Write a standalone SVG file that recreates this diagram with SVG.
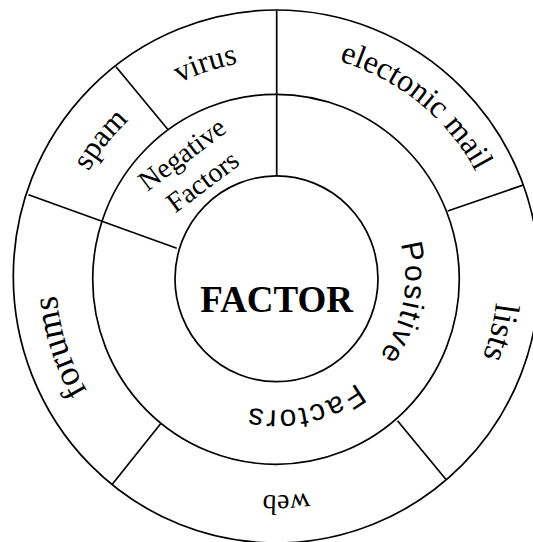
<svg xmlns="http://www.w3.org/2000/svg" xmlns:xlink="http://www.w3.org/1999/xlink" width="533" height="542" viewBox="0 0 533 542">
<style>
.ring{fill:none;stroke:#000;stroke-width:1.7}
.div{stroke:#000;stroke-width:1.7;fill:none}
.serif{font-family:"Liberation Serif","Times New Roman",serif;fill:#000}
.sans{font-family:"Liberation Sans",Arial,sans-serif;fill:#000}
</style>
<defs>
<path id="r216" d="M -216 0 A 216 216 0 1 1 216 0 A 216 216 0 1 1 -216 0"/>
<path id="r217" d="M -217 0 A 217 217 0 1 1 217 0 A 217 217 0 1 1 -217 0"/>
<path id="r218" d="M -218 0 A 218 218 0 1 1 218 0 A 218 218 0 1 1 -218 0"/>
<path id="r220" d="M -220 0 A 220 220 0 1 1 220 0 A 220 220 0 1 1 -220 0"/>
<path id="r221" d="M -221 0 A 221 221 0 1 1 221 0 A 221 221 0 1 1 -221 0"/>
<path id="r226" d="M -226 0 A 226 226 0 1 1 226 0 A 226 226 0 1 1 -226 0"/>
<path id="r129" d="M -129 0 A 129 129 0 1 1 129 0 A 129 129 0 1 1 -129 0"/>
<path id="r132" d="M -132 0 A 132 132 0 1 1 132 0 A 132 132 0 1 1 -132 0"/>
</defs>
<rect width="533" height="542" fill="#fff"/>

<g id="outer-ring">
<ellipse class="ring" cx="276.3" cy="276.5" rx="263" ry="266.5"/>
</g>
<g id="middle-ring">
<ellipse class="ring" cx="276" cy="279.3" rx="183.3" ry="185"/>
</g>

<g id="connectors">
<line class="div" x1="276.7" y1="10.5" x2="276.7" y2="176"/>
<line class="div" x1="28.5" y1="194.7" x2="176.7" y2="248.3"/>
<line class="div" x1="116" y1="66.7" x2="167.7" y2="129.3"/>
<line class="div" x1="523.3" y1="185" x2="447.7" y2="211"/>
<line class="div" x1="397.5" y1="420.7" x2="446" y2="479.5"/>
<line class="div" x1="161" y1="423.3" x2="111.7" y2="485"/>
</g>

<g id="center">
<ellipse class="ring" cx="276.5" cy="278.8" rx="101.5" ry="102.9"/>
<text class="serif" x="276.7" y="311.7" font-size="37" font-weight="bold" text-anchor="middle">FACTOR</text>
</g>

<g id="negative-factors">
<g transform="translate(192.5 168) rotate(-37)">
<text class="serif" x="0" y="-8" font-size="28" text-anchor="middle">Negative</text>
<text class="serif" x="0" y="26" font-size="28" text-anchor="middle">Factors</text>
</g>
</g>

<g id="positive-factors">
<g transform="translate(276.3 278.3) rotate(11)">
<text class="sans" font-size="30" letter-spacing="1.8" text-anchor="middle"><textPath xlink:href="#r129" startOffset="50%">Positive</textPath></text>
</g>
<g transform="translate(276.3 278.3) rotate(77.5)">
<text class="sans" font-size="30" letter-spacing="2.2" text-anchor="middle"><textPath xlink:href="#r132" startOffset="50%">Factors</textPath></text>
</g>
</g>

<g id="electonic-mail" transform="translate(276.3 278.3) rotate(-51)">
<text class="serif" font-size="32" text-anchor="middle"><textPath xlink:href="#r226" startOffset="50%">electonic mail</textPath></text>
</g>
<g id="lists" transform="translate(276.3 278.3) rotate(13.6)">
<text class="serif" font-size="35" text-anchor="middle"><textPath xlink:href="#r221" startOffset="50%">lists</textPath></text>
</g>
<g id="web" transform="translate(276.3 278.3) rotate(87.4)">
<text class="serif" font-size="28" text-anchor="middle"><textPath xlink:href="#r217" startOffset="50%">web</textPath></text>
</g>
<g id="forums" transform="translate(276.3 278.3) rotate(162.3)">
<text class="serif" font-size="36" text-anchor="middle"><textPath xlink:href="#r220" startOffset="50%">forums</textPath></text>
</g>
<g id="spam" transform="translate(276.3 278.3) rotate(-141.7)">
<text class="serif" font-size="31" text-anchor="middle"><textPath xlink:href="#r216" startOffset="50%">spam</textPath></text>
</g>
<g id="virus" transform="translate(276.3 278.3) rotate(-108.3)">
<text class="serif" font-size="31" text-anchor="middle"><textPath xlink:href="#r218" startOffset="50%">virus</textPath></text>
</g>
</svg>
